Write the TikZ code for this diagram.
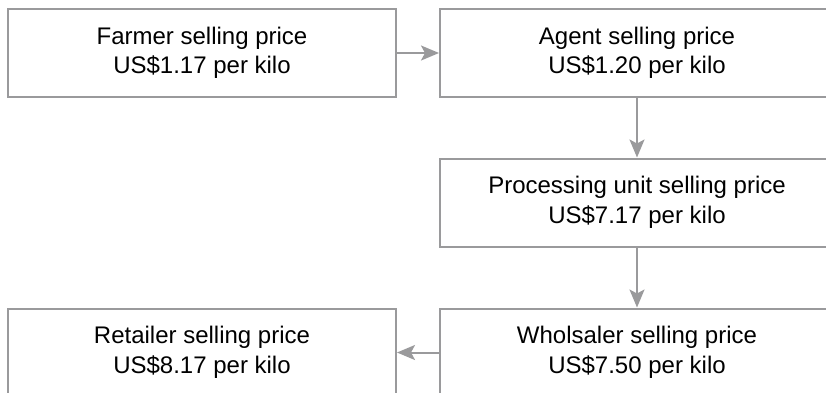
\documentclass[tikz,border=0pt]{standalone}
\usepackage{fontspec}
\setmainfont{Liberation Sans}
\usepackage{xcolor}
\usetikzlibrary{arrows.meta,positioning}
\definecolor{linegray}{HTML}{9A9A9C}

\begin{document}
\begin{tikzpicture}[
  x=1pt, y=-1pt,
  every node/.style={font=\fontsize{24}{29.5}\selectfont},
  stage/.style={rectangle, draw=linegray, line width=2pt, fill=white,
                minimum width=388pt, minimum height=88pt, inner sep=0pt,
                align=center},
  wstage/.style={stage, minimum width=394pt},          % right column
  flow/.style={-{Stealth[length=18pt,width=15pt,inset=4pt]}, line width=2pt, linegray},
]
\useasboundingbox (0,0) rectangle (826,392);

%% -- price chain -------------------------------------------------------
\node[stage]  (farmer)  at (202, 53)    {Farmer selling price\\US\$1.17 per kilo};
\node[wstage] (agent)   at (637, 53)    {Agent selling price\\US\$1.20 per kilo};
\node[wstage] (proc)    at (637, 202.5) {Processing unit selling price\\US\$7.17 per kilo};
\node[wstage] (whol)    at (637, 352.5) {Wholsaler selling price\\US\$7.50 per kilo};
\node[stage]  (retail)  at (202, 352.5) {Retailer selling price\\US\$8.17 per kilo};

% connectors
\draw[flow] (farmer) -- (agent);
\draw[flow] (agent) -- (proc);
\draw[flow] (proc) -- (whol);
\draw[flow] (whol) -- (retail);

\end{tikzpicture}
\end{document}
